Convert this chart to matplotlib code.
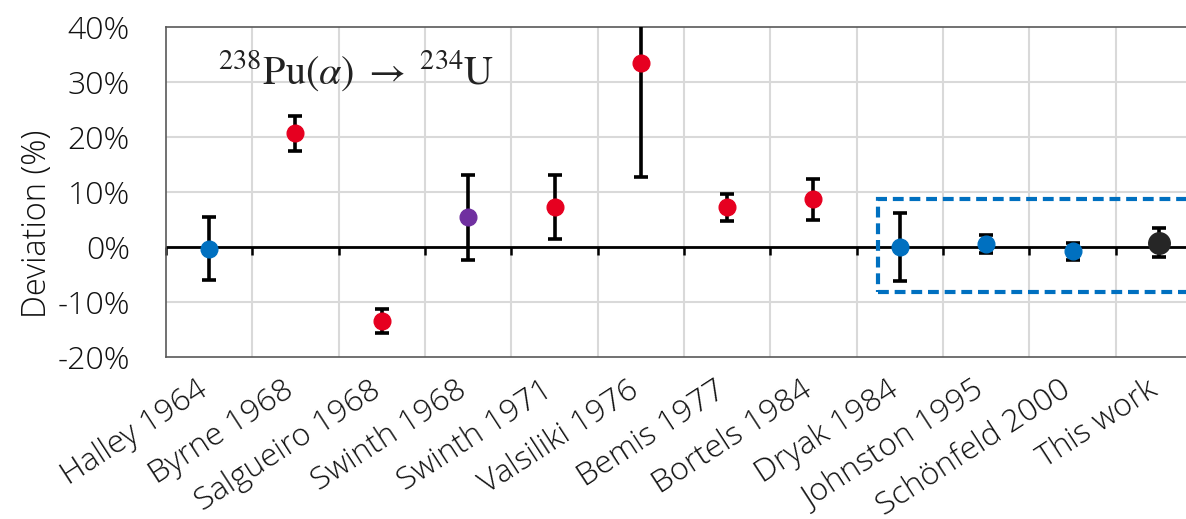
import numpy as np
import matplotlib
matplotlib.use("Agg")
import matplotlib.pyplot as plt
from matplotlib.patches import Rectangle

# Measured deviations (%) from the reference half-life, with 1-sigma uncertainties
labels = ["Halley 1964", "Byrne 1968", "Salgueiro 1968", "Swinth 1968",
          "Swinth 1971", "Valsiliki 1976", "Bemis 1977", "Bortels 1984",
          "Dryak 1984", "Johnston 1995", "Schönfeld 2000", "This work"]
deviation = [-0.3, 20.7, -13.5, 5.4, 7.3, 33.5, 7.2, 8.7, 0.0, 0.5, -0.8, 0.8]
uncertainty = [5.8, 3.2, 2.25, 7.7, 5.85, 20.8, 2.45, 3.75, 6.2, 1.6, 1.6, 2.6]
point_colors = ["#0070C0", "#E60020", "#E60020", "#7030A0", "#E60020", "#E60020",
                "#E60020", "#E60020", "#0070C0", "#0070C0", "#0070C0", "#262626"]
marker_sizes = [12] * 11 + [15.5]

# Group of modern, consistent measurements outlined by the dashed frame
group_x0, group_x1 = 7.75, 11.9
group_y0, group_y1 = -8.3, 8.8

plt.rcParams["font.family"] = ["Open Sans", "DejaVu Sans"]
plt.rcParams["font.weight"] = "light"
plt.rcParams["mathtext.fontset"] = "stix"

W, H, DPI = 1186, 519, 100
fig = plt.figure(figsize=(W / DPI, H / DPI), dpi=DPI)
ax = fig.add_axes([166 / W, 162.3 / H, 1036 / W, 329.4 / H])

n = len(labels)
x = np.arange(n)

ax.set_xlim(-0.5, n - 0.5)
ax.set_ylim(-20, 40)

# grid
bounds = np.arange(n + 1) - 0.5
for b in bounds[1:-1]:
    ax.axvline(b, color="#D9D9D9", lw=1.5, zorder=0)
for yv in range(-10, 40, 10):
    ax.axhline(yv, color="#D9D9D9", lw=1.5, zorder=0)

# zero axis with outward category ticks
ax.axhline(0, color="black", lw=2.0, zorder=2)
ax.plot(bounds[:-1], np.zeros(n), ls="none", marker=3, ms=5.5, mew=1.8,
        color="black", zorder=2, clip_on=False)

# data points with error bars
for xi, yi, ei, c, ms in zip(x, deviation, uncertainty, point_colors, marker_sizes):
    ax.errorbar(xi, yi, yerr=ei, fmt="o", color=c, ms=ms, mec=c,
                ecolor="black", elinewidth=2.6, capsize=5, capthick=2.6,
                zorder=4)

# dashed frame
ax.add_patch(Rectangle((group_x0, group_y0), group_x1 - group_x0,
                       group_y1 - group_y0, fill=False, edgecolor="#0070C0",
                       lw=3.0, linestyle=(0, (2.6, 1.4)), zorder=3))

# reaction label
ax.text(0.05, 0.828,
        r"${}^{238}\mathrm{Pu}(\alpha)\;\rightarrow\;{}^{234}\mathrm{U}$",
        transform=ax.transAxes, fontsize=29, ha="left", va="baseline",
        color="#222222")

# axes styling
for side in ("left", "top", "bottom"):
    ax.spines[side].set_color("#595959")
    ax.spines[side].set_linewidth(1.2)
ax.spines["right"].set_visible(False)

ax.set_yticks(range(-20, 41, 10))
ax.set_yticklabels([f"{v}%" for v in range(-20, 41, 10)])
ax.tick_params(axis="y", length=0, pad=26, labelsize=23, labelcolor="#111111")

ax.set_xticks(x)
ax.set_xticklabels(labels, rotation=33, ha="right", va="baseline",
                   rotation_mode="anchor")
ax.tick_params(axis="x", length=0, pad=27, labelsize=23, labelcolor="#111111")

ax.text(-0.1245, 0.404, "Deviation (%)", transform=ax.transAxes, rotation=90,
        ha="center", va="center", fontsize=23.5, color="#111111")

fig.savefig("out.png", dpi=DPI)
